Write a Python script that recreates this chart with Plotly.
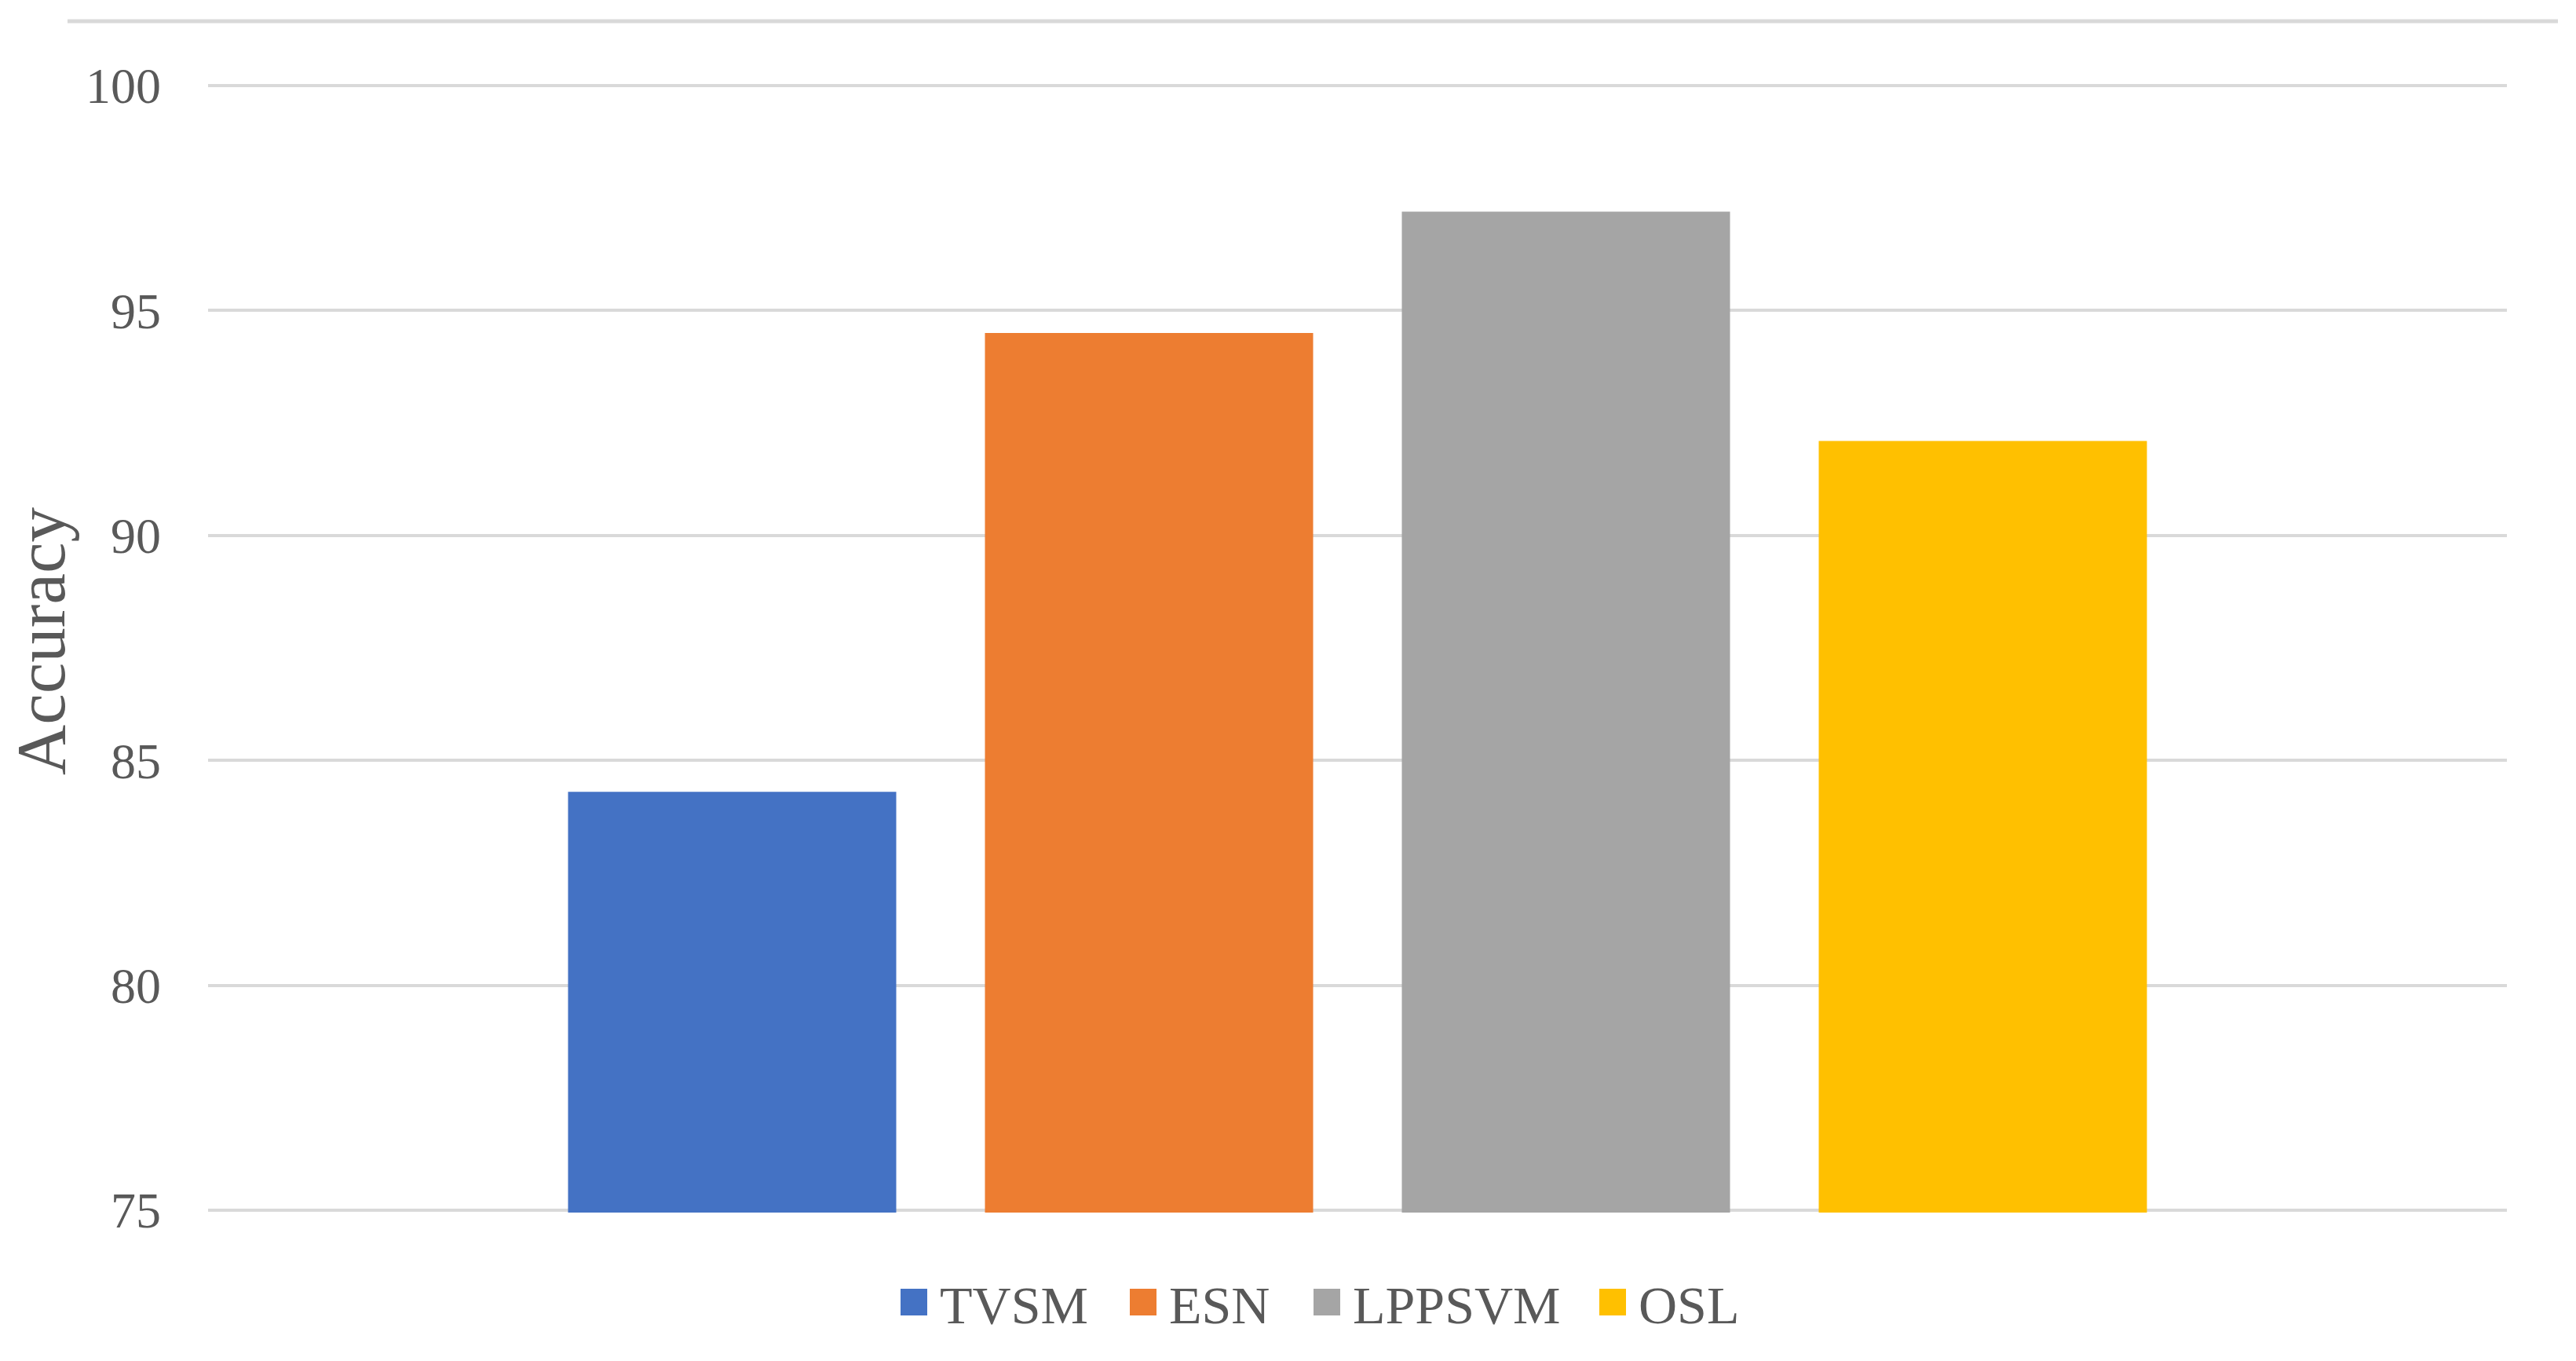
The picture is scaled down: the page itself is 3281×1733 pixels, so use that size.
import plotly.graph_objects as go

# ---- data ----
methods = ["TVSM", "ESN", "LPPSVM", "OSL"]
accuracy = [84.3, 94.5, 97.2, 92.1]
colors = ["#4472C4", "#ED7D31", "#A5A5A5", "#FFC000"]
y_ticks = [75, 80, 85, 90, 95, 100]
y_title = "Accuracy"
y_min, y_max = 75, 100

# ---- layout constants (pixels) ----
W, H = 3281, 1733
GRID_TOP, GRID_BOT = 109, 1541          # pixel rows of 100 and 75
PAD = 3                                  # extra pixels so the edge gridlines are kept
ML, MR = 265, 88
MT, MB = GRID_TOP - PAD, H - GRID_BOT - PAD
PW, PH = W - ML - MR, H - MT - MB
k = (GRID_BOT - GRID_TOP) / (y_max - y_min)   # px per unit
e = PAD / k
FONT = "Liberation Serif, Times New Roman, serif"
TXT = "#595959"
GRID = "#D9D9D9"

def px_x(x):
    return (x - ML) / PW

def px_y(y):
    return (H - MB - y) / PH

fig = go.Figure()
for name, val, col in zip(methods, accuracy, colors):
    fig.add_trace(go.Bar(
        x=[0], y=[val], name=name,
        marker=dict(color=col, line=dict(width=0)),
        hoverinfo="name+y",
    ))

fig.update_layout(
    width=W, height=H,
    margin=dict(l=ML, r=MR, t=MT, b=MB, autoexpand=False),
    paper_bgcolor="white", plot_bgcolor="white",
    barmode="group", bargap=0.2746, bargroupgap=0.2128,
    font=dict(family=FONT, color=TXT, size=68),
    xaxis=dict(range=[-0.5, 0.5], showticklabels=False, showgrid=False,
               zeroline=False, showline=False, ticks="", fixedrange=True),
    yaxis=dict(range=[y_min - e, y_max + e], tickvals=y_ticks, showgrid=True,
               gridcolor=GRID, gridwidth=4, zeroline=False, showline=False,
               ticks="", ticklabelstandoff=59,
               tickfont=dict(family=FONT, color=TXT, size=64)),
    legend=dict(orientation="h", xanchor="center", yanchor="middle",
                x=px_x(1678), y=px_y(1658),
                font=dict(family=FONT, color=TXT, size=68),
                itemwidth=30, bgcolor="rgba(0,0,0,0)"),
    showlegend=True,
)

# y axis title
fig.add_annotation(text=y_title, textangle=-90, xref="paper", yref="paper",
                   x=px_x(52), y=px_y(817), xanchor="center", yanchor="middle",
                   showarrow=False, font=dict(family=FONT, color=TXT, size=89))

# chart-area top border line
fig.add_shape(type="line", xref="paper", yref="paper",
              x0=px_x(86), x1=px_x(3258), y0=px_y(27), y1=px_y(27),
              line=dict(color=GRID, width=5))

post = """
document.body.style.margin = '0';
document.body.style.overflow = 'hidden';
var gd = document.getElementById('{plot_id}');
gd.querySelectorAll('g.legend [clip-path]').forEach(function(n){ n.removeAttribute('clip-path'); });
var lg = gd.querySelector('g.legend');
if(lg) lg.removeAttribute('clip-path');
var SIZE = 34, GAP = 16;
var TARGET_X = [1147, 1439, 1673, 2037];
var TARGET_CY = 1658;
var groups = gd.querySelectorAll('g.legend g.traces');
groups.forEach(function(t, i){
  var txt = t.querySelector('text.legendtext');
  if(!txt) return;
  var tx = parseFloat(txt.getAttribute('x'));
  var p = t.querySelector('.legendpoints path');
  if(!p) return;
  p.removeAttribute('transform');
  var r = tx - GAP, l = r - SIZE;
  p.setAttribute('d', 'M'+r+','+(SIZE/2)+'H'+l+'V'+(-SIZE/2)+'H'+r+'Z');
  var rect = p.getBoundingClientRect();
  var dx = TARGET_X[i] - rect.left;
  var dy = TARGET_CY - (rect.top + rect.bottom) / 2;
  var tr = t.getAttribute('transform') || '';
  var m = /translate\\(([-0-9.e]+)[ ,]*([-0-9.e]*)\\)/.exec(tr);
  var x0 = m ? parseFloat(m[1]) : 0, y0 = (m && m[2]) ? parseFloat(m[2]) : 0;
  t.setAttribute('transform', 'translate(' + (x0 + dx) + ',' + (y0 + dy) + ')');
});
"""

fig.write_html("out.html", post_script=post, config={"displayModeBar": False})
